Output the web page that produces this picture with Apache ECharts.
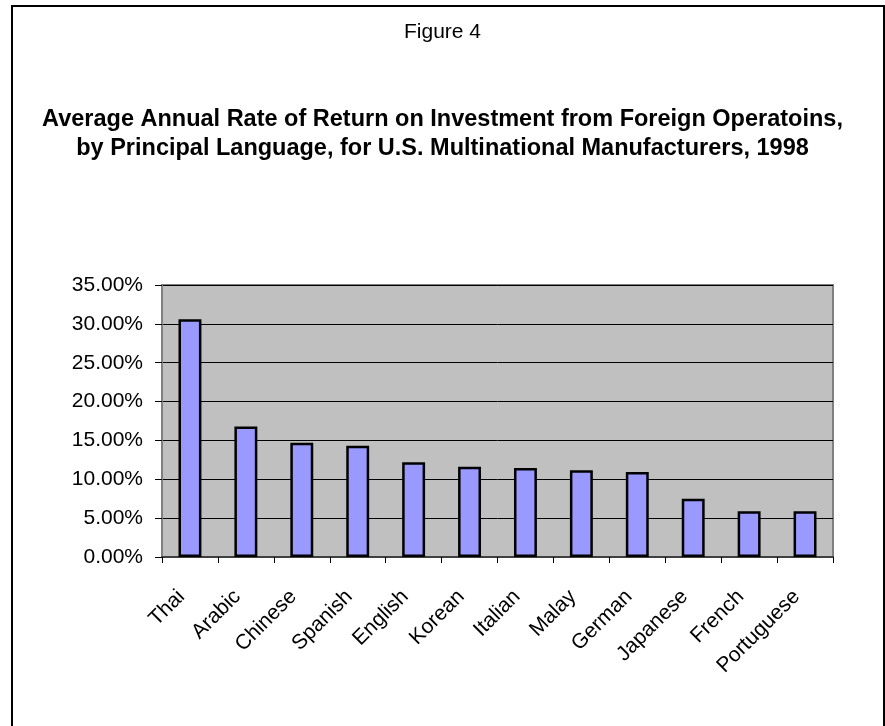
<!DOCTYPE html>
<html>
<head>
<meta charset="utf-8">
<script src="https://cdn.jsdelivr.net/npm/echarts@6/dist/echarts.min.js"></script>
<style>
html,body{margin:0;padding:0;background:#fff;}
#chart{width:885px;height:726px;}
</style>
</head>
<body>
<div id="chart"></div>
<script>
const categories = ["Thai","Arabic","Chinese","Spanish","English","Korean","Italian","Malay","German","Japanese","French","Portuguese"];
const returns = [0.306,0.168,0.147,0.143,0.122,0.116,0.1145,0.1115,0.1095,0.075,0.059,0.059];
const figureLabel = "Figure 4";
const titleLine1 = "Average Annual Rate of Return on Investment from Foreign Operatoins,";
const titleLine2 = "by Principal Language, for U.S. Multinational Manufacturers, 1998";

const FONT = 'Liberation Sans, Arial, sans-serif';
const chart = echarts.init(document.getElementById('chart'));
chart.setOption({
  animation: false,
  backgroundColor: '#fff',
  graphic: [{
    type: 'rect',
    shape: {x: 12, y: 6, width: 872, height: 740},
    style: {fill: 'none', stroke: '#000', lineWidth: 2},
    silent: true
  }],
  title: [{
    text: figureLabel,
    left: 'center',
    top: 17,
    textStyle: {fontFamily: FONT, fontSize: 21, fontWeight: 'normal', color: '#000'}
  },{
    text: titleLine1,
    left: 'center',
    top: 103,
    textStyle: {fontFamily: FONT, fontSize: 23.5, fontWeight: 'bold', color: '#000'}
  },{
    text: titleLine2,
    left: 'center',
    top: 132,
    textStyle: {fontFamily: FONT, fontSize: 23.5, fontWeight: 'bold', color: '#000'}
  }],
  grid: {
    left: 162, right: 52, top: 285, bottom: 169,
    show: true, backgroundColor: '#C0C0C0', borderColor: '#808080', borderWidth: 2
  },
  xAxis: {
    type: 'category',
    data: categories,
    axisLine: {show: true, lineStyle: {color: '#404040', width: 2}},
    axisTick: {show: true, length: 6, lineStyle: {color: '#000'}},
    axisLabel: {rotate: 45, margin: 28, padding: [0, 12, 0, 0], fontFamily: FONT, fontSize: 21, color: '#000', interval: 0}
  },
  yAxis: {
    type: 'value',
    min: 0, max: 0.35, interval: 0.05,
    axisLine: {show: true, lineStyle: {color: '#808080', width: 2}},
    axisTick: {show: true, length: 7, lineStyle: {color: '#000'}},
    splitLine: {show: true, lineStyle: {color: '#000', width: 1}},
    axisLabel: {
      margin: 19, fontFamily: FONT, fontSize: 21, color: '#000',
      formatter: v => (v * 100).toFixed(2) + '%'
    }
  },
  series: [{
    type: 'bar',
    data: returns,
    barWidth: '41%',
    itemStyle: {color: '#9999FF', borderColor: '#000', borderWidth: 2.5}
  }]
});
</script>
</body>
</html>
